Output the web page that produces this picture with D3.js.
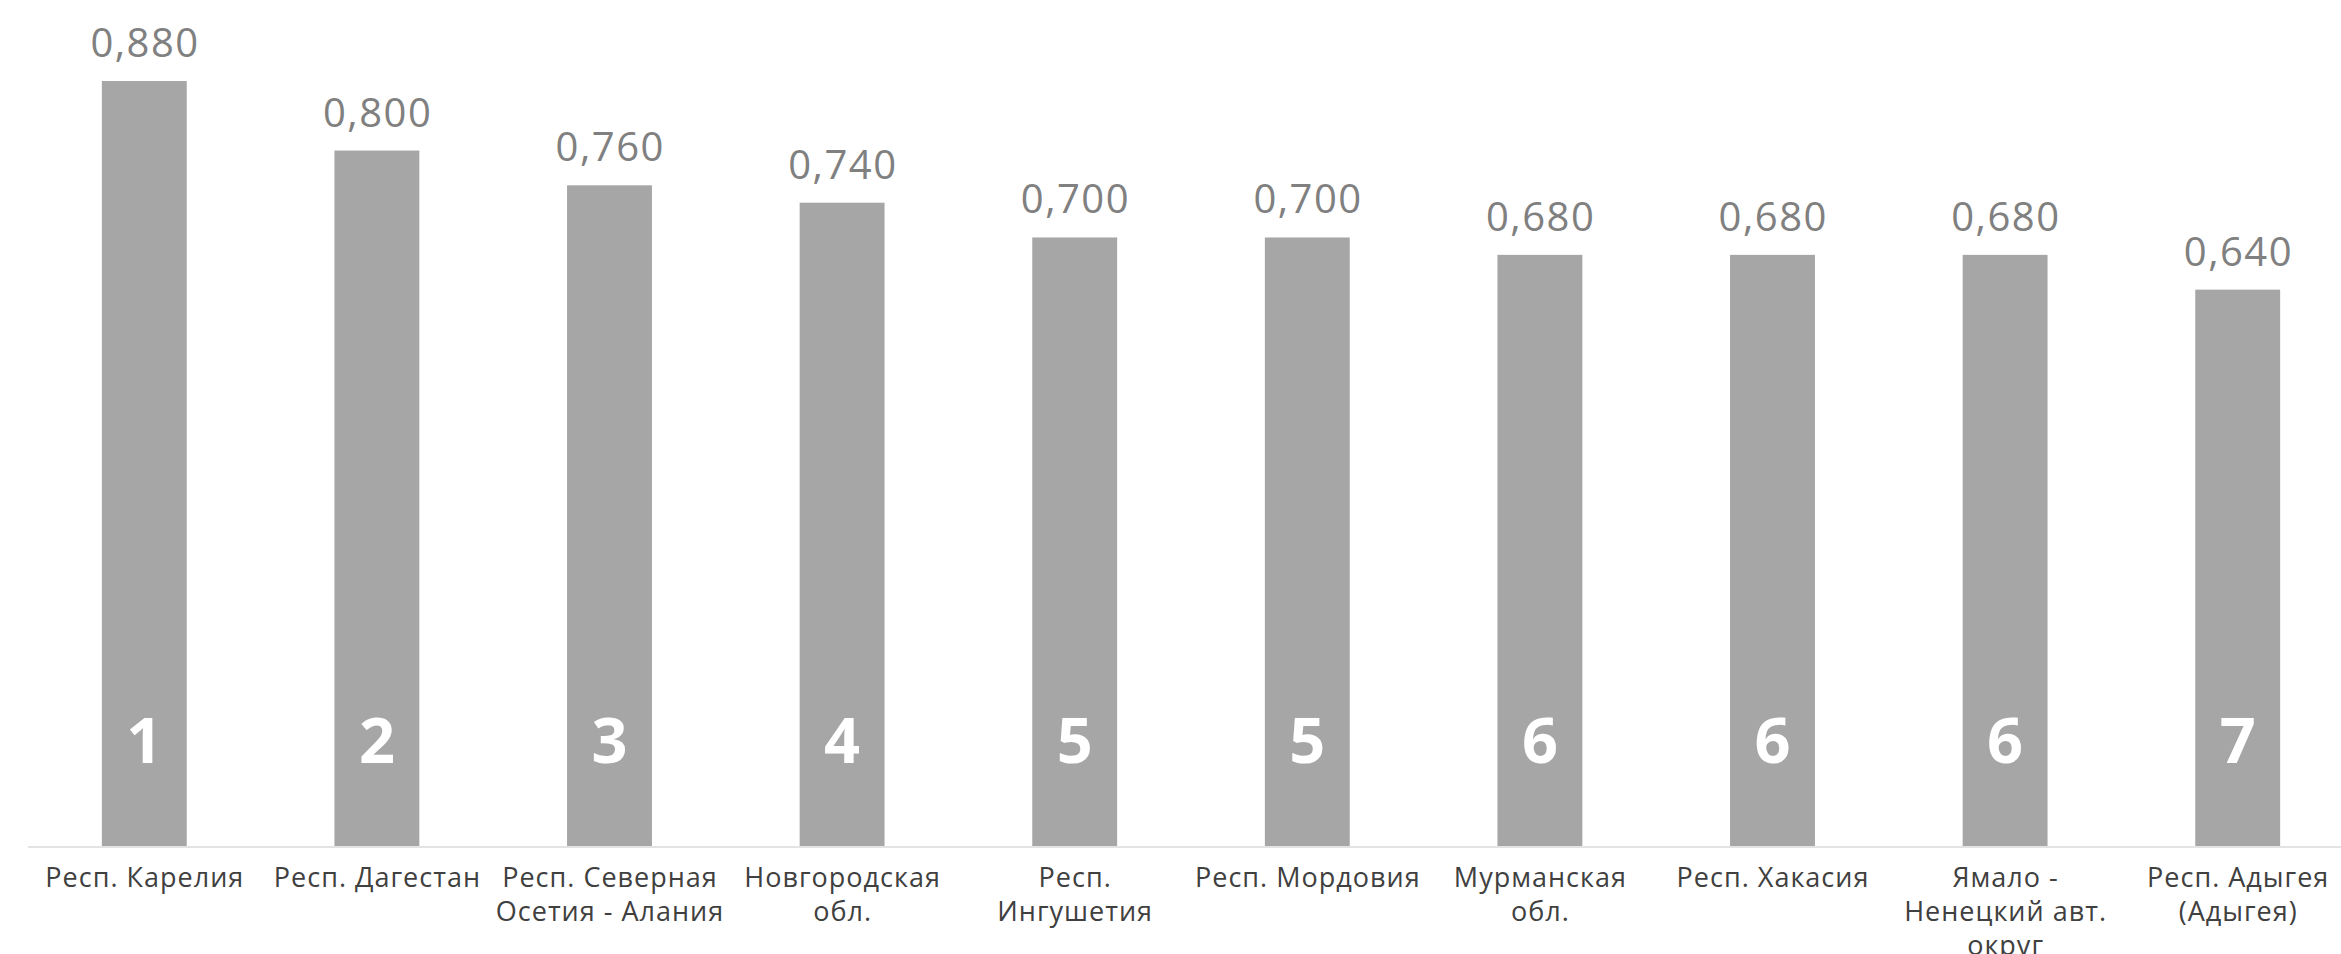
<!DOCTYPE html>
<html>
<head>
<meta charset="utf-8">
<script src="https://cdn.jsdelivr.net/npm/d3@7"></script>
<style>
  html, body { margin: 0; padding: 0; background: #ffffff; }
  svg { display: block; }
</style>
</head>
<body>
<script>
// ---- Data ----
const categories = [
  "Респ. Карелия",
  "Респ. Дагестан",
  "Респ. Северная Осетия - Алания",
  "Новгородская обл.",
  "Респ. Ингушетия",
  "Респ. Мордовия",
  "Мурманская обл.",
  "Респ. Хакасия",
  "Ямало - Ненецкий авт. округ",
  "Респ. Адыгея (Адыгея)"
];
const categoryLines = [
  ["Респ. Карелия"],
  ["Респ. Дагестан"],
  ["Респ. Северная", "Осетия - Алания"],
  ["Новгородская", "обл."],
  ["Респ.", "Ингушетия"],
  ["Респ. Мордовия"],
  ["Мурманская", "обл."],
  ["Респ. Хакасия"],
  ["Ямало -", "Ненецкий авт.", "округ"],
  ["Респ. Адыгея", "(Адыгея)"]
];
const values = [0.880, 0.800, 0.760, 0.740, 0.700, 0.700, 0.680, 0.680, 0.680, 0.640];
const ranks = [1, 2, 3, 4, 5, 5, 6, 6, 6, 7];

// ---- Layout ----
const W = 2341, H = 954;
const baseY = 846;
const fontFamily = "'Open Sans', 'Noto Sans', sans-serif";

const svg = d3.select("body").append("svg")
  .attr("width", W).attr("height", H);

const x = d3.scaleBand()
  .domain(categories)
  .range([28, 2354])
  .paddingInner(0.635)
  .paddingOuter(0.3175);

const y = d3.scaleLinear()
  .domain([0, 0.88])
  .range([baseY, 81]);

const locale = d3.formatLocale({decimal: ",", thousands: " ", grouping: [3], currency: ["", ""]});
const fmt = locale.format(".3f");

const data = categories.map((c, i) => ({c, v: values[i], r: ranks[i], lines: categoryLines[i]}));

// Bars
svg.append("g").selectAll("rect")
  .data(data).join("rect")
  .attr("x", d => x(d.c))
  .attr("y", d => y(d.v))
  .attr("width", x.bandwidth())
  .attr("height", d => y(0) - y(d.v))
  .attr("fill", "#a6a6a6");

// Axis line
svg.append("line")
  .attr("x1", 28).attr("x2", W)
  .attr("y1", baseY + 1).attr("y2", baseY + 1)
  .attr("stroke", "#e3e3e3").attr("stroke-width", 2);

// Value labels
const vls = 1.5;
svg.append("g").selectAll("text")
  .data(data).join("text")
  .attr("x", d => x(d.c) + x.bandwidth() / 2 + vls / 2)
  .attr("y", d => y(d.v) - 24)
  .attr("text-anchor", "middle")
  .attr("font-family", fontFamily)
  .attr("font-weight", 400)
  .attr("letter-spacing", vls)
  .attr("font-size", 40)
  .attr("fill", "#808080")
  .text(d => fmt(d.v));

// Rank numbers
svg.append("g").selectAll("text")
  .data(data).join("text")
  .attr("x", d => x(d.c) + x.bandwidth() / 2)
  .attr("y", 763)
  .attr("text-anchor", "middle")
  .attr("font-family", fontFamily)
  .attr("font-weight", 700)
  .attr("font-size", 63)
  .attr("fill", "#ffffff")
  .text(d => d.r);

// Category labels
const cls = 1;
const lab = svg.append("g").selectAll("text")
  .data(data).join("text")
  .attr("x", d => x(d.c) + x.bandwidth() / 2)
  .attr("y", 887)
  .attr("text-anchor", "middle")
  .attr("font-family", fontFamily)
  .attr("font-size", 27)
  .attr("letter-spacing", cls)
  .attr("fill", "#404040");

lab.selectAll("tspan")
  .data(d => d.lines.map(l => ({l, cx: x(d.c) + x.bandwidth() / 2 + cls / 2})))
  .join("tspan")
  .attr("x", t => t.cx)
  .attr("dy", (t, i) => i === 0 ? 0 : 34)
  .text(t => t.l);
</script>
</body>
</html>
